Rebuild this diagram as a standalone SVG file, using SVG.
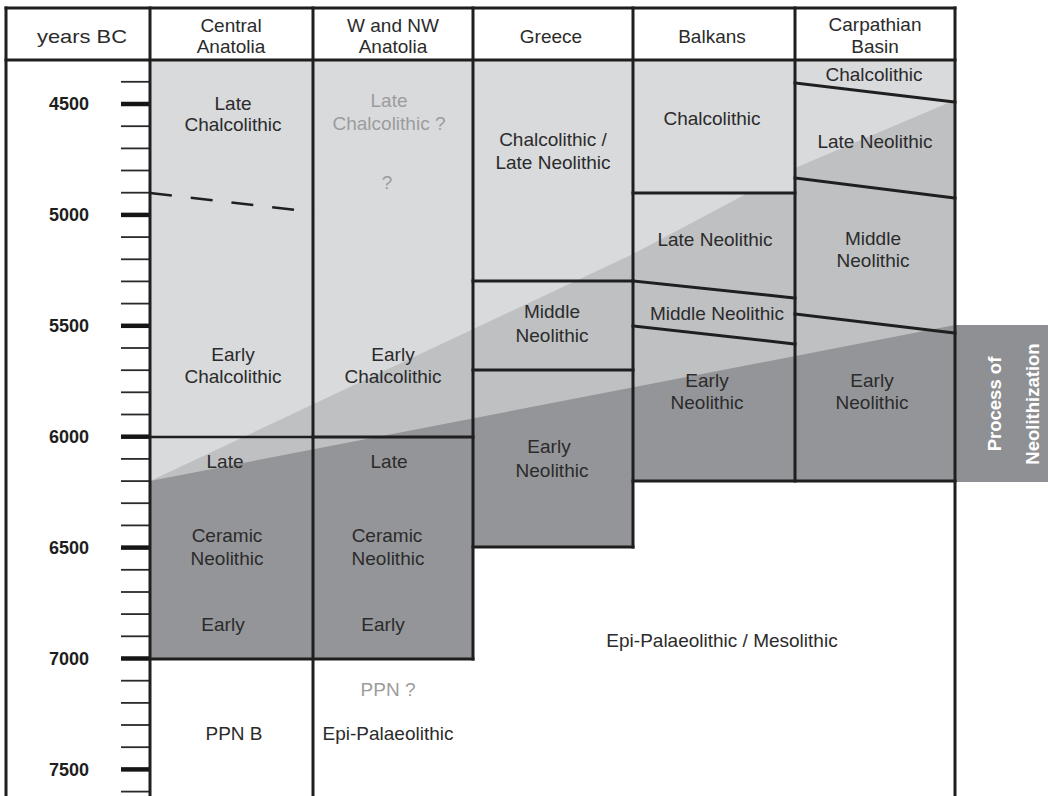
<svg xmlns="http://www.w3.org/2000/svg" width="1048" height="796" viewBox="0 0 1048 796">
<style>
text{font-family:"Liberation Sans",Arial,sans-serif;font-size:19px;fill:#2b2b2b;text-anchor:middle}
.q{fill:#9c9c9c}
.yr{font-weight:bold;font-size:18px;text-anchor:end;fill:#1e1e1e}
.pn{font-weight:bold;fill:#ffffff;font-size:18.5px}
.b{stroke:#1f1f1f;stroke-width:3;fill:none;stroke-linecap:square}
.t{stroke:#1f1f1f;stroke-width:2.5;fill:none}
.mn{stroke:#2a2a2a;stroke-width:1.8}
.mj{stroke:#151515;stroke-width:4.5}
.lt{fill:#d9dadc}
.md{fill:#bfc0c2}
.dk{fill:#949598}
</style>
<defs>
<clipPath id="area"><polygon points="150,60 955,60 955,481 633,481 633,547 473,547 473,659 150,659"/></clipPath>
</defs>
<rect width="1048" height="796" fill="#ffffff"/>
<g id="shading" clip-path="url(#area)">
<rect class="lt" x="150" y="60" width="805" height="600"/>
<polygon class="md" points="150,481 633,254 795,168 955,100 955,800 150,800"/>
<polygon class="dk" points="150,481 955,325 955,800 150,800"/>
<rect class="lt" x="633" y="60" width="162" height="133"/>
</g>
<g id="process">
<rect x="955" y="325" width="93" height="157" fill="#8f9093"/>
<text class="pn" transform="translate(1001,404) rotate(-90)">Process of</text>
<text class="pn" transform="translate(1039,404) rotate(-90)">Neolithization</text>
</g>
<g id="axis">
<g class="mn">
<line x1="121" y1="81.8" x2="150" y2="81.8"/>
<line x1="121" y1="126.2" x2="150" y2="126.2"/>
<line x1="121" y1="148.4" x2="150" y2="148.4"/>
<line x1="121" y1="170.5" x2="150" y2="170.5"/>
<line x1="121" y1="192.7" x2="150" y2="192.7"/>
<line x1="121" y1="237.1" x2="150" y2="237.1"/>
<line x1="121" y1="259.3" x2="150" y2="259.3"/>
<line x1="121" y1="281.4" x2="150" y2="281.4"/>
<line x1="121" y1="303.6" x2="150" y2="303.6"/>
<line x1="121" y1="348" x2="150" y2="348"/>
<line x1="121" y1="370.2" x2="150" y2="370.2"/>
<line x1="121" y1="392.3" x2="150" y2="392.3"/>
<line x1="121" y1="414.5" x2="150" y2="414.5"/>
<line x1="121" y1="458.9" x2="150" y2="458.9"/>
<line x1="121" y1="481.1" x2="150" y2="481.1"/>
<line x1="121" y1="503.2" x2="150" y2="503.2"/>
<line x1="121" y1="525.4" x2="150" y2="525.4"/>
<line x1="121" y1="569.8" x2="150" y2="569.8"/>
<line x1="121" y1="592" x2="150" y2="592"/>
<line x1="121" y1="614.1" x2="150" y2="614.1"/>
<line x1="121" y1="636.3" x2="150" y2="636.3"/>
<line x1="121" y1="680.7" x2="150" y2="680.7"/>
<line x1="121" y1="702.9" x2="150" y2="702.9"/>
<line x1="121" y1="725" x2="150" y2="725"/>
<line x1="121" y1="747.2" x2="150" y2="747.2"/>
<line x1="121" y1="791.6" x2="150" y2="791.6"/>
</g>
<g class="mj">
<line x1="121" y1="104" x2="150" y2="104"/>
<line x1="121" y1="214.9" x2="150" y2="214.9"/>
<line x1="121" y1="325.8" x2="150" y2="325.8"/>
<line x1="121" y1="436.7" x2="150" y2="436.7"/>
<line x1="121" y1="547.6" x2="150" y2="547.6"/>
<line x1="121" y1="658.5" x2="150" y2="658.5"/>
<line x1="121" y1="769.4" x2="150" y2="769.4"/>
</g>
<text class="yr" x="89" y="110">4500</text>
<text class="yr" x="89" y="221">5000</text>
<text class="yr" x="89" y="332">5500</text>
<text class="yr" x="89" y="443">6000</text>
<text class="yr" x="89" y="554">6500</text>
<text class="yr" x="89" y="665">7000</text>
<text class="yr" x="89" y="776">7500</text>
</g>
<g id="connectors">
<line class="b" x1="6" y1="8" x2="955" y2="8"/>
<line class="b" x1="6" y1="60" x2="955" y2="60"/>
<line class="b" x1="6" y1="8" x2="6" y2="796"/>
<line class="b" x1="150" y1="8" x2="150" y2="796"/>
<line class="b" x1="313" y1="8" x2="313" y2="796"/>
<line class="b" x1="473" y1="8" x2="473" y2="659"/>
<line class="b" x1="633" y1="8" x2="633" y2="547"/>
<line class="b" x1="795" y1="8" x2="795" y2="481"/>
<line class="b" x1="955" y1="8" x2="955" y2="796"/>
<line class="t" x1="150" y1="193" x2="313" y2="212" stroke-dasharray="22 19"/>
<line class="t" x1="150" y1="437" x2="313" y2="437"/>
<line class="b" x1="313" y1="437" x2="473" y2="437"/>
<line class="b" x1="150" y1="659" x2="473" y2="659"/>
<line class="b" x1="473" y1="281" x2="633" y2="281"/>
<line class="b" x1="473" y1="370" x2="633" y2="370"/>
<line class="b" x1="473" y1="547" x2="633" y2="547"/>
<line class="b" x1="633" y1="193" x2="795" y2="193"/>
<line class="b" x1="633" y1="281" x2="795" y2="298"/>
<line class="b" x1="633" y1="326" x2="795" y2="344"/>
<line class="b" x1="633" y1="481" x2="955" y2="481"/>
<line class="b" x1="795" y1="83" x2="955" y2="102"/>
<line class="b" x1="795" y1="178" x2="955" y2="198"/>
<line class="b" x1="795" y1="314" x2="955" y2="333"/>
</g>
<g id="header">
<text x="82" y="43" textLength="90" lengthAdjust="spacingAndGlyphs">years BC</text>
<text x="231" y="32">Central</text>
<text x="231" y="53">Anatolia</text>
<text x="393" y="32">W and NW</text>
<text x="393" y="53">Anatolia</text>
<text x="551" y="43">Greece</text>
<text x="712" y="43">Balkans</text>
<text x="875" y="31">Carpathian</text>
<text x="875" y="53">Basin</text>
</g>
<g id="central-anatolia">
<text x="233" y="110">Late</text>
<text x="233" y="131">Chalcolithic</text>
<text x="233" y="361">Early</text>
<text x="233" y="383">Chalcolithic</text>
<text x="225" y="468">Late</text>
<text x="227" y="542">Ceramic</text>
<text x="227" y="565">Neolithic</text>
<text x="223" y="631">Early</text>
<text x="234" y="740">PPN B</text>
</g>
<g id="w-nw-anatolia">
<text class="q" x="389" y="107">Late</text>
<text class="q" x="389" y="130">Chalcolithic ?</text>
<text class="q" x="387" y="189">?</text>
<text x="393" y="361">Early</text>
<text x="393" y="383">Chalcolithic</text>
<text x="389" y="468">Late</text>
<text x="387" y="542">Ceramic</text>
<text x="388" y="565">Neolithic</text>
<text x="383" y="631">Early</text>
<text class="q" x="388" y="696">PPN ?</text>
<text x="388" y="740">Epi-Palaeolithic</text>
</g>
<g id="greece">
<text x="553" y="146">Chalcolithic /</text>
<text x="553" y="169">Late Neolithic</text>
<text x="552" y="318">Middle</text>
<text x="552" y="342">Neolithic</text>
<text x="549" y="453">Early</text>
<text x="552" y="477">Neolithic</text>
</g>
<g id="balkans">
<text x="712" y="125">Chalcolithic</text>
<text x="715" y="246">Late Neolithic</text>
<text x="717" y="320">Middle Neolithic</text>
<text x="707" y="387">Early</text>
<text x="707" y="409">Neolithic</text>
</g>
<g id="carpathian-basin">
<text x="874" y="81">Chalcolithic</text>
<text x="875" y="148">Late Neolithic</text>
<text x="873" y="245">Middle</text>
<text x="873" y="267">Neolithic</text>
<text x="872" y="387">Early</text>
<text x="872" y="409">Neolithic</text>
</g>
<g id="epi-palaeolithic">
<text x="722" y="647">Epi-Palaeolithic / Mesolithic</text>
</g>
</svg>
